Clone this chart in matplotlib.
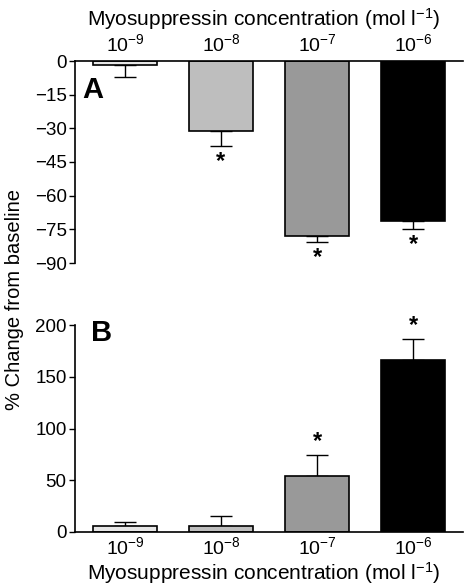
import matplotlib
matplotlib.use("Agg")
import matplotlib.pyplot as plt
import numpy as np

plt.rcParams['font.family'] = ['Liberation Sans', 'DejaVu Sans']

concentrations = ["$10^{-9}$", "$10^{-8}$", "$10^{-7}$", "$10^{-6}$"]
a_values = [-1.8, -31, -78, -71.5]
a_errors = [5.5, 7, 2.8, 3.5]
a_sig = [False, True, True, True]
b_values = [6, 6, 54, 166]
b_errors = [4, 9, 20, 20]
b_sig = [False, False, True, True]
colors = ["#e6e6e6", "#bebebe", "#999999", "#000000"]
a_yticks = [0, -15, -30, -45, -60, -75, -90]
b_yticks = [0, 50, 100, 150, 200]
xlabel = "Myosuppressin concentration (mol l$^{-1}$)"
ylabel = "% Change from baseline"

plt.rcParams['mathtext.fontset'] = 'custom'
plt.rcParams['mathtext.rm'] = 'Liberation Sans'
plt.rcParams['mathtext.it'] = 'Liberation Sans'

fig = plt.figure(figsize=(4.65, 5.85), dpi=100)
W, H = 465, 585
def ax_rect(x0, y0, x1, y1):
    return [x0 / W, 1 - y1 / H, (x1 - x0) / W, (y1 - y0) / H]

x = np.arange(4)
fsy = 13.5
fsx = 14
fsl = 15

# Panel A
axA = fig.add_axes(ax_rect(75, 61, 463, 263))
axA.bar(x, a_values, width=0.66, color=colors, edgecolor='black', linewidth=1.2, zorder=2)
axA.errorbar(x, a_values, yerr=[a_errors, [0]*4], fmt='none', ecolor='black',
             elinewidth=1.0, capsize=8, capthick=1.0, zorder=1)
for i in range(4):
    if a_sig[i]:
        axA.text(x[i], a_values[i] - a_errors[i] - 1.5, "*", ha='center', va='top',
                 fontsize=17, fontweight='bold')
axA.set_xlim(-0.52, 3.52)
axA.set_ylim(-90, 0)
axA.set_yticks(a_yticks)
axA.set_yticklabels([("\u2212%d" % -t) if t < 0 else "%d" % t for t in a_yticks], fontsize=fsy)
axA.set_xticks(x)
axA.set_xticklabels(concentrations, fontsize=fsx)
axA.xaxis.tick_top()
axA.tick_params(axis='x', length=0, pad=4)
axA.tick_params(axis='y', length=4, width=1, pad=2)
for s in ['right', 'bottom']:
    axA.spines[s].set_visible(False)
axA.spines['top'].set_linewidth(1.2)
axA.spines['left'].set_linewidth(1.2)
axA.spines['top'].set_zorder(3)
axA.text(0.02, 0.855, "A", transform=axA.transAxes, fontsize=21, fontweight='bold',
         ha='left', va='center')
fig.text(264 / W, 1 - 19 / H, xlabel, ha='center', va='center', fontsize=fsl)

# Panel B
axB = fig.add_axes(ax_rect(75, 325, 463, 532))
axB.bar(x, b_values, width=0.66, color=colors, edgecolor='black', linewidth=1.2, zorder=2)
axB.errorbar(x, b_values, yerr=[[0]*4, b_errors], fmt='none', ecolor='black',
             elinewidth=1.0, capsize=8, capthick=1.0, zorder=1)
for i in range(4):
    if b_sig[i]:
        axB.text(x[i], b_values[i] + b_errors[i] + 2, "*", ha='center', va='bottom',
                 fontsize=17, fontweight='bold')
axB.set_xlim(-0.52, 3.52)
axB.set_ylim(0, 200)
axB.set_yticks(b_yticks)
axB.set_yticklabels([str(t) for t in b_yticks], fontsize=fsy)
axB.set_xticks(x)
axB.set_xticklabels(concentrations, fontsize=fsx)
axB.tick_params(axis='x', length=0, pad=3)
axB.tick_params(axis='y', length=4, width=1, pad=2)
for s in ['right', 'top']:
    axB.spines[s].set_visible(False)
axB.spines['bottom'].set_linewidth(1.2)
axB.spines['left'].set_linewidth(1.2)
axB.text(0.04, 0.96, "B", transform=axB.transAxes, fontsize=21, fontweight='bold',
         ha='left', va='center')
fig.text(264 / W, 1 - 573 / H, xlabel, ha='center', va='center', fontsize=fsl)

fig.text(15 / W, 1 - 300 / H, ylabel, rotation=90, ha='center', va='center', fontsize=14.5)

fig.savefig("out.png", dpi=100)
